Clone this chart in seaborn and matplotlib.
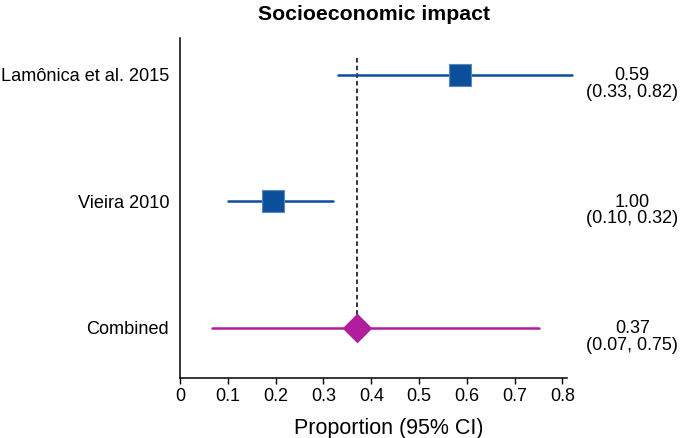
import numpy as np
import pandas as pd
import seaborn as sns
import matplotlib.pyplot as plt

# forest plot data
studies = ["Lamônica et al. 2015", "Vieira 2010", "Combined"]
estimate = [0.585, 0.195, 0.37]
lower = [0.33, 0.10, 0.067]
upper = [0.82, 0.32, 0.75]
est_text = ["0.59", "1.00", "0.37"]
ci_text = ["(0.33, 0.82)", "(0.10, 0.32)", "(0.07, 0.75)"]
kind = ["study", "study", "combined"]
pooled = 0.37
xticks = [0, 0.1, 0.2, 0.3, 0.4, 0.5, 0.6, 0.7, 0.8]

df = pd.DataFrame({"study": studies, "est": estimate, "lo": lower, "hi": upper, "kind": kind})
df["y"] = np.arange(len(df))

sns.set_style("ticks")
plt.rcParams['font.family'] = ['Liberation Sans', 'DejaVu Sans']
plt.rcParams['text.color'] = 'black'
plt.rcParams['xtick.color'] = 'black'
plt.rcParams['ytick.color'] = 'black'
plt.rcParams['axes.labelcolor'] = 'black'
plt.rcParams['axes.edgecolor'] = 'black'

blue = "#0b4f9c"
magenta = "#b01e9e"

fig = plt.figure(figsize=(6.85, 4.38), dpi=100)
ax = fig.add_axes([0.263, 0.137, 0.565, 0.776])

# CI lines
for _, r in df.iterrows():
    c = blue if r["kind"] == "study" else magenta
    ax.plot([r["lo"], r["hi"]], [r["y"], r["y"]], color=c, lw=1.8, clip_on=False, zorder=2)

# pooled reference line down to the diamond
ax.plot([pooled, pooled], [-0.134, df["y"].iloc[-1]], color="black", ls=(0, (3, 2)), lw=1.1, zorder=1)

sns.scatterplot(data=df[df["kind"] == "study"], x="est", y="y", marker="s", s=260,
                color=blue, edgecolor="#5b86c0", linewidth=0.8, ax=ax, zorder=3, legend=False)
sns.scatterplot(data=df[df["kind"] == "combined"], x="est", y="y", marker="D", s=230,
                color=magenta, edgecolor=magenta, linewidth=0, ax=ax, zorder=3, legend=False)

ax.set_ylim(2.395, -0.29)
ax.set_xlim(0, 0.81)
ax.set_yticks(df["y"])
ax.set_yticklabels(studies, fontsize=13.1)
ax.tick_params(axis="y", length=0, pad=8)
ax.set_xticks(xticks)
ax.set_xticklabels(["0"] + [f"{t:.1f}" for t in xticks[1:]], fontsize=13)
ax.tick_params(axis="x", length=4, width=1, pad=3)
for s in ["top", "right"]:
    ax.spines[s].set_visible(False)
ax.spines["left"].set_linewidth(1.1)
ax.spines["bottom"].set_linewidth(1.1)

ax.set_xlabel("Proportion (95% CI)", fontsize=15.5)
ax.xaxis.set_label_coords(0.54, -0.117)
ax.set_ylabel("")
ax.set_title("Socioeconomic impact", fontsize=15.3, fontweight="bold", pad=13)

# estimate and CI text to the right
for yv, e, ci in zip(df["y"], est_text, ci_text):
    ax.annotate(e + "\n" + ci, xy=(1.168, yv), xycoords=ax.get_yaxis_transform(),
                xytext=(0, 5.5), textcoords="offset points", ha="center", va="top",
                fontsize=13, linespacing=0.95, annotation_clip=False)

fig.savefig("out.png", dpi=100)
